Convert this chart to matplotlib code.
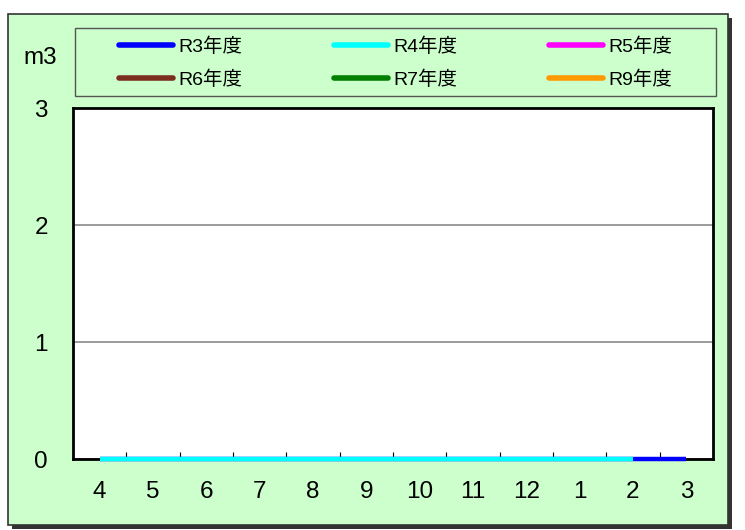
import numpy as np
import matplotlib.pyplot as plt
from matplotlib.patches import Rectangle

plt.rcParams['font.family'] = ['Liberation Sans', 'Noto Sans CJK JP', 'DejaVu Sans']

months = ['4', '5', '6', '7', '8', '9', '10', '11', '12', '1', '2', '3']
series_names = ['R3年度', 'R4年度', 'R5年度', 'R6年度', 'R7年度', 'R9年度']
series_colors = ['#0000ff', '#00ffff', '#ff00ff', '#7b2e1e', '#008000', '#ff9900']
r3 = [0, 0, 0, 0, 0, 0, 0, 0, 0, 0, 0, 0]
r4 = [0, 0, 0, 0, 0, 0, 0, 0, 0, 0, 0]
r5 = []
r6 = []
r7 = []
r9 = []
series_vals = [r3, r4, r5, r6, r7, r9]

bg = '#ccffcc'
W, H = 745, 530
fig = plt.figure(figsize=(W / 100, H / 100), dpi=100)
fig.patch.set_facecolor('white')

# outer frame with shadow
fig.patches.append(Rectangle((12 / W, 1 - 529 / H), 720 / W, 511 / H, transform=fig.transFigure,
                             facecolor='#333333', edgecolor='none', zorder=-3))
fig.patches.append(Rectangle((8 / W, 1 - 525 / H), 720 / W, 511 / H, transform=fig.transFigure,
                             facecolor=bg, edgecolor='#333333', linewidth=1.2, zorder=-2))
# legend box
fig.patches.append(Rectangle((75 / W, 1 - 96 / H), 641 / W, 68 / H, transform=fig.transFigure,
                             facecolor=bg, edgecolor='#555555', linewidth=1, zorder=-1))

ax = fig.add_axes([73 / W, 1 - 459 / H, 640 / W, 351 / H])
ax.set_facecolor('white')

handles = []
for name, col, vals in zip(series_names, series_colors, series_vals):
    x = np.arange(len(vals))
    h, = ax.plot(x, vals, color=col, linewidth=3.2, label=name, solid_capstyle='butt',
                 zorder=3, clip_on=False)
    handles.append(h)
# draw R4 over R3
handles[1].set_zorder(4)

ax.set_xlim(-0.5, len(months) - 0.5)
ax.set_ylim(0, 3)
ax.set_xticks(np.arange(len(months)))
ax.set_xticklabels(months)
ax.set_xticks(np.arange(0.5, len(months) - 1, 1), minor=True)
ax.tick_params(axis='x', which='major', length=0, pad=16, labelsize=17.5)
ax.tick_params(axis='x', which='minor', direction='in', length=5, width=0.8, color='black')
ax.set_yticks([0, 1, 2, 3])
ax.tick_params(axis='y', length=0, pad=18, labelsize=17.5)
ax.grid(axis='y', color='#808080', linewidth=1.1)
ax.set_axisbelow(True)
for s in ax.spines.values():
    s.set_linewidth(2)
    s.set_color('black')

fig.text(40 / W, 1 - 58 / H, 'm3', fontsize=17.5, ha='center', va='center')

# legend entries row-major: R3 R4 R5 / R6 R7 R9
order = [0, 3, 1, 4, 2, 5]
leg_handles = [plt.Line2D([], [], color=series_colors[i], linewidth=4, solid_capstyle='round') for i in order]
leg_labels = [series_names[i] for i in order]
leg = fig.legend(handles=leg_handles, labels=leg_labels, ncol=3,
                 bbox_to_anchor=(395.5 / W, 1 - 63.5 / H), loc='center',
                 fontsize=14, frameon=False, handlelength=2.8, handletextpad=0.26,
                 borderaxespad=0, columnspacing=4.7, labelspacing=0.75, borderpad=0)

fig.savefig('out.png', dpi=100, facecolor=fig.get_facecolor())
